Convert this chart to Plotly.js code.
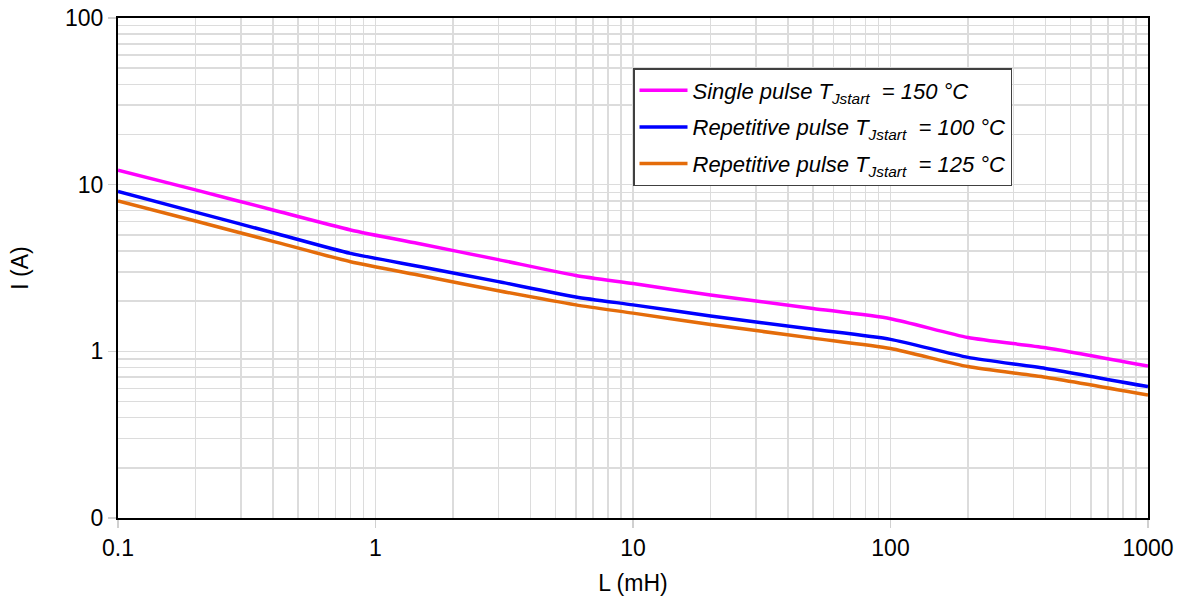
<!DOCTYPE html>
<html>
<head>
<meta charset="utf-8">
<script src="https://cdn.plot.ly/plotly-3.0.1.min.js"></script>
<style>html,body{margin:0;padding:0;background:#fff;}#chart{width:1188px;height:600px;}</style>
</head>
<body>
<div id="chart"></div>
<script>
// Inductance L (mH)
const inductance = [0.1, 0.2, 0.4, 0.8, 1.5, 3, 6, 10, 20, 50, 100, 200, 400, 1000];
// Avalanche current I (A)
const singlePulse150 = [12.2, 9.3, 7.05, 5.35, 4.40, 3.55, 2.85, 2.55, 2.18, 1.81, 1.57, 1.21, 1.05, 0.815];
const repetitive100  = [9.1, 6.84, 5.15, 3.87, 3.22, 2.62, 2.12, 1.90, 1.63, 1.355, 1.18, 0.92, 0.79, 0.614];
const repetitive125  = [8.0, 6.05, 4.57, 3.45, 2.85, 2.31, 1.90, 1.695, 1.45, 1.20, 1.04, 0.81, 0.70, 0.547];

const seriesNames = [
  '<i>Single pulse T<sub>Jstart</sub>  = 150 °C</i>',
  '<i>Repetitive pulse T<sub>Jstart</sub>  = 100 °C</i>',
  '<i>Repetitive pulse T<sub>Jstart</sub>  = 125 °C</i>'
];
const seriesColors = ['#FF00FF', '#0000FF', '#E46C0A'];

const xTickVals = [0.1, 1, 10, 100, 1000];
const xTickText = ['0.1', '1', '10', '100', '1000'];
const yTickVals = [0.1, 1, 10, 100];
const yTickText = ['0', '1', '10', '100'];

function minorVals(lo, hi) {
  const out = [];
  for (let d = lo; d < hi; d *= 10) {
    for (let k = 2; k <= 9; k++) out.push(+(d * k).toPrecision(3));
  }
  return out;
}

const FONT = 'Liberation Sans, Arial, sans-serif';
const ys = [singlePulse150, repetitive100, repetitive125];
const traces = ys.map((y, i) => ({
  x: inductance, y: y, type: 'scatter', mode: 'lines', name: seriesNames[i],
  legendgroup: 'g' + i,
  line: {color: seriesColors[i], width: 3.5, shape: 'spline', smoothing: 0.6}
}));

const axisCommon = {
  type: 'log', showline: true, linecolor: '#000', linewidth: 2, mirror: true,
  showgrid: true, gridcolor: '#dcdcdc', gridwidth: 1.5, zeroline: false,
  ticks: 'outside', ticklen: 8, tickcolor: '#d0d0d0', tickwidth: 1.5,
  tickfont: {family: FONT, size: 23, color: '#000'},
  tickmode: 'array'
};

const layout = {
  width: 1188, height: 600,
  margin: {l: 118, r: 40, t: 18, b: 82},
  paper_bgcolor: '#fff', plot_bgcolor: '#fff',
  showlegend: true,
  xaxis: Object.assign({}, axisCommon, {
    range: [-1, 3], tickvals: xTickVals, ticktext: xTickText,
    minor: {tickmode: 'array', tickvals: minorVals(0.1, 1000), showgrid: true, gridcolor: '#dcdcdc', gridwidth: 1.5, ticks: ''},
    title: {text: 'L (mH)', font: {family: FONT, size: 23, color: '#000'}, standoff: 15}
  }),
  yaxis: Object.assign({}, axisCommon, {
    range: [-1, 2], tickvals: yTickVals, ticktext: yTickText,
    minor: {tickmode: 'array', tickvals: minorVals(0.1, 100), showgrid: true, gridcolor: '#dcdcdc', gridwidth: 1.5, ticks: ''},
    title: {text: 'I (A)', font: {family: FONT, size: 23, color: '#000'}, standoff: 30}
  }),
  legend: {
    x: 0.5, y: 0.9, xanchor: 'left', yanchor: 'top',
    bgcolor: '#fff', bordercolor: '#404040', borderwidth: 1.5,
    font: {family: FONT, size: 22, color: '#000'},
    tracegroupgap: 5, itemwidth: 48
  }
};

Plotly.newPlot('chart', traces, layout, {staticPlot: true});
</script>
</body>
</html>
